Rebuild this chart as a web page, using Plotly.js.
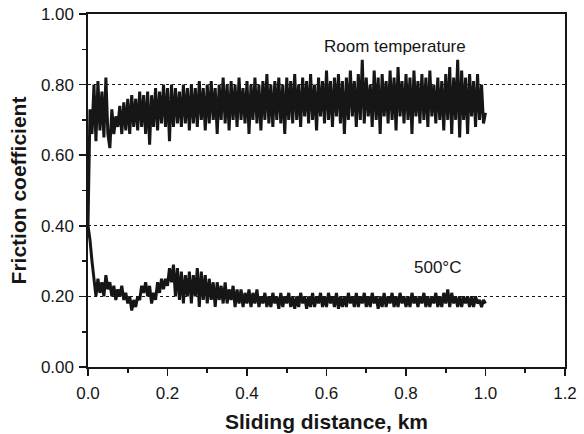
<!DOCTYPE html>
<html>
<head>
<meta charset="utf-8">
<script src="https://cdn.plot.ly/plotly-3.0.1.min.js"></script>
<style>html,body{margin:0;padding:0;background:#fff;}#chart{width:584px;height:434px;}</style>
</head>
<body>
<div id="chart"></div>
<script>
// Sampling step of the sliding distance (km) for both recorded series
const distanceStep = 0.005;

// Room temperature friction coefficient (x = 0 .. 1.0 km)
const roomTempFriction = [
0.40,0.73,0.66,0.80,0.64,0.81,0.67,0.78,0.65,0.82,
0.66,0.62,0.73,0.66,0.71,0.68,0.74,0.66,0.75,0.67,
0.76,0.66,0.77,0.68,0.76,0.67,0.78,0.68,0.77,0.66,
0.78,0.63,0.77,0.68,0.79,0.67,0.78,0.69,0.80,0.68,
0.79,0.64,0.80,0.68,0.79,0.69,0.78,0.68,0.80,0.69,
0.79,0.67,0.80,0.69,0.79,0.68,0.81,0.70,0.79,0.67,
0.80,0.69,0.81,0.70,0.79,0.66,0.80,0.70,0.82,0.69,
0.80,0.67,0.81,0.70,0.80,0.68,0.82,0.70,0.79,0.69,
0.81,0.66,0.80,0.70,0.82,0.69,0.80,0.67,0.81,0.70,
0.83,0.69,0.80,0.68,0.81,0.70,0.82,0.69,0.80,0.66,
0.82,0.70,0.81,0.69,0.83,0.70,0.80,0.68,0.82,0.71,
0.81,0.69,0.83,0.70,0.80,0.67,0.82,0.71,0.81,0.69,
0.84,0.70,0.81,0.68,0.82,0.71,0.83,0.69,0.81,0.66,
0.82,0.70,0.84,0.71,0.81,0.68,0.83,0.70,0.87,0.69,
0.82,0.71,0.80,0.68,0.84,0.70,0.82,0.66,0.83,0.71,
0.81,0.69,0.84,0.70,0.82,0.67,0.85,0.71,0.81,0.69,
0.83,0.70,0.82,0.66,0.84,0.71,0.81,0.69,0.83,0.70,
0.82,0.68,0.84,0.71,0.80,0.69,0.82,0.70,0.81,0.67,
0.83,0.70,0.85,0.66,0.82,0.70,0.87,0.65,0.84,0.70,
0.82,0.66,0.83,0.71,0.81,0.68,0.83,0.70,0.80,0.69,
0.72
];

// 500 °C friction coefficient (x = 0 .. 1.0 km)
const hotFriction = [
0.40,0.36,0.30,0.24,0.20,0.25,0.21,0.24,0.20,0.26,
0.22,0.24,0.20,0.23,0.19,0.22,0.20,0.23,0.19,0.21,
0.18,0.20,0.16,0.19,0.17,0.20,0.19,0.23,0.21,0.24,
0.20,0.23,0.18,0.21,0.19,0.24,0.21,0.25,0.22,0.25,
0.23,0.28,0.24,0.29,0.20,0.28,0.19,0.27,0.18,0.26,
0.20,0.27,0.18,0.26,0.20,0.28,0.17,0.27,0.19,0.26,
0.18,0.25,0.19,0.24,0.17,0.24,0.19,0.23,0.18,0.24,
0.18,0.22,0.19,0.23,0.17,0.22,0.18,0.22,0.17,0.21,
0.18,0.22,0.17,0.21,0.18,0.22,0.17,0.20,0.18,0.21,
0.17,0.20,0.17,0.21,0.18,0.20,0.165,0.21,0.17,0.20,
0.18,0.21,0.17,0.20,0.165,0.20,0.17,0.21,0.18,0.20,
0.165,0.20,0.17,0.21,0.17,0.20,0.18,0.21,0.17,0.20,
0.17,0.21,0.18,0.20,0.17,0.21,0.165,0.20,0.17,0.20,
0.17,0.21,0.18,0.20,0.17,0.21,0.17,0.20,0.18,0.21,
0.17,0.20,0.17,0.21,0.18,0.20,0.165,0.20,0.17,0.21,
0.17,0.20,0.18,0.21,0.17,0.20,0.17,0.21,0.18,0.20,
0.17,0.20,0.17,0.21,0.18,0.20,0.17,0.20,0.18,0.21,
0.17,0.20,0.17,0.20,0.18,0.21,0.17,0.20,0.17,0.21,
0.18,0.22,0.17,0.21,0.18,0.20,0.17,0.20,0.17,0.20,
0.18,0.20,0.17,0.20,0.17,0.20,0.18,0.19,0.17,0.19,
0.18
];

const seriesLabels = ["Room temperature", "500°C"];
const labelPositions = [[0.772, 0.909], [0.878, 0.283]];

const distRT = roomTempFriction.map((_, i) => +(i * distanceStep).toFixed(4));
const distHot = hotFriction.map((_, i) => +(i * distanceStep).toFixed(4));

const ink = '#161616';
const lineStyle = {color: ink, width: 3};
const traces = [
  {x: distRT, y: roomTempFriction, type: 'scatter', mode: 'lines', line: lineStyle, hoverinfo: 'none'},
  {x: distHot, y: hotFriction, type: 'scatter', mode: 'lines', line: lineStyle, hoverinfo: 'none'}
];

const fam = 'Liberation Sans, Arial, sans-serif';

const layout = {
  width: 584, height: 434,
  margin: {l: 88, r: 19, t: 14, b: 67},
  paper_bgcolor: '#fff', plot_bgcolor: '#fff',
  showlegend: false,
  font: {family: fam, color: ink, size: 17},
  xaxis: {
    range: [0, 1.2], dtick: 0.2, tick0: 0, tickformat: '.1f',
    showline: true, linecolor: ink, linewidth: 1.6, mirror: true,
    ticks: 'outside', ticklen: 7, tickwidth: 1.6, tickcolor: ink,
    ticklabelstandoff: 3,
    minor: {dtick: 0.1, ticks: 'outside', ticklen: 4, tickwidth: 1.6, tickcolor: ink, showgrid: false},
    showgrid: false, zeroline: false,
    tickfont: {size: 17, family: fam, color: ink},
    title: {text: 'Sliding distance, km', font: {size: 21, family: fam, color: ink, weight: 'bold'}, standoff: 12}
  },
  yaxis: {
    range: [0, 1.0], dtick: 0.2, tick0: 0, tickformat: '.2f',
    showline: true, linecolor: ink, linewidth: 1.6, mirror: true,
    ticks: 'outside', ticklen: 7, tickwidth: 1.6, tickcolor: ink,
    ticklabelstandoff: 2,
    minor: {dtick: 0.1, ticks: 'outside', ticklen: 4, tickwidth: 1.6, tickcolor: ink, showgrid: false},
    showgrid: true, gridcolor: ink, gridwidth: 1.2, griddash: 'dot',
    zeroline: false,
    tickfont: {size: 17, family: fam, color: ink},
    title: {text: 'Friction coefficient', font: {size: 21, family: fam, color: ink, weight: 'bold'}, standoff: 8}
  },
  annotations: seriesLabels.map((t, i) => ({
    x: labelPositions[i][0], y: labelPositions[i][1], xref: 'x', yref: 'y',
    text: t, showarrow: false, font: {size: 17, family: fam, color: ink}
  }))
};

Plotly.newPlot('chart', traces, layout, {displayModeBar: false, staticPlot: true});
</script>
</body>
</html>
